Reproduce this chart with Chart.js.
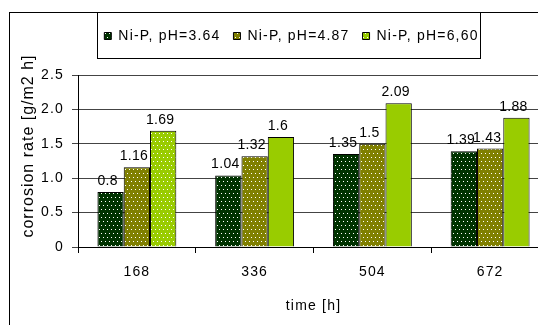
<!DOCTYPE html>
<html>
<head>
<meta charset="utf-8">
<script src="https://cdn.jsdelivr.net/npm/chart.js@4.4.0/dist/chart.umd.min.js"></script>
<style>
html, body { margin: 0; padding: 0; background: #fff; overflow: hidden; }
#wrap { width: 560px; height: 325px; }
</style>
</head>
<body>
<div id="wrap"><canvas id="corrosion" width="560" height="325"></canvas></div>
<script>
var times = ["168", "336", "504", "672"];
var seriesNames = ["Ni-P, pH=3.64", "Ni-P, pH=4.87", "Ni-P, pH=6,60"];
var ph364 = [0.8, 1.04, 1.35, 1.39];
var ph487 = [1.16, 1.32, 1.5, 1.43];
var ph660 = [1.69, 1.6, 2.09, 1.88];
var yTicks = [0, 0.5, 1, 1.5, 2, 2.5];
var yTitle = "corrosion rate [g/m2 h]";

var FONT = "'Liberation Sans', Arial, sans-serif";
Chart.defaults.font.family = FONT;
Chart.defaults.font.size = 14;
Chart.defaults.color = "#000";

// dotted fill like the excel pattern
function dots(base) {
    var c = document.createElement("canvas");
    c.width = 8; c.height = 8;
    var g = c.getContext("2d");
    g.fillStyle = base;
    g.fillRect(0, 0, 8, 8);
    g.fillStyle = "#ffffff";
    [[1, 1], [5, 1], [3, 5], [7, 5]].forEach(function (p) { g.fillRect(p[0], p[1], 1, 1); });
    return g.createPattern(c, "repeat");
}
var dark = dots("#003300");
var olive = dots("#808000");
var light = dots("#99cc00");

var spacing = {
    id: "spacing",
    beforeLayout: function (chart) { chart.ctx.letterSpacing = "1.2px"; },
    beforeDraw: function (chart) { chart.ctx.letterSpacing = "1.2px"; }
};

var frame = {
    id: "frame",
    afterDraw: function (chart) {
        var ctx = chart.ctx;
        var hb = chart.legend.legendHitBoxes;
        var last = hb[hb.length - 1];
        ctx.save();
        ctx.strokeStyle = "#000";
        ctx.lineWidth = 1;
        ctx.strokeRect(9.5, 12.5, chart.width, chart.height);
        var l = Math.round(hb[0].left - 7) + 0.5;
        var r = Math.round(last.left + last.width + 1) + 0.5;
        ctx.strokeRect(l, 12.5, r - l, 46);
        // y axis title, a bit above the plot centre as in the original
        ctx.translate(29, 146);
        ctx.rotate(-Math.PI / 2);
        ctx.font = "16px " + FONT;
        ctx.letterSpacing = "1px";
        ctx.fillStyle = "#000";
        ctx.textAlign = "center";
        ctx.textBaseline = "middle";
        ctx.fillText(yTitle, 0, 0);
        ctx.restore();
    }
};

var valueLabels = {
    id: "valueLabels",
    afterDatasetsDraw: function (chart) {
        var ctx = chart.ctx;
        ctx.save();
        ctx.font = "14px " + FONT;
        ctx.letterSpacing = "0.3px";
        ctx.fillStyle = "#000";
        ctx.textAlign = "center";
        ctx.textBaseline = "alphabetic";
        chart.data.datasets.forEach(function (ds, i) {
            chart.getDatasetMeta(i).data.forEach(function (bar, j) {
                ctx.fillText(String(ds.data[j]), bar.x - 3, bar.y - 7);
            });
        });
        ctx.restore();
    }
};

var data = {
    labels: times,
    datasets: [
        { label: seriesNames[0], data: ph364, backgroundColor: dark, borderColor: "#000", borderWidth: 1 },
        { label: seriesNames[1], data: ph487, backgroundColor: olive, borderColor: "#000", borderWidth: 1 },
        {
            label: seriesNames[2], data: ph660,
            backgroundColor: function (c) { return c.dataIndex === 0 ? light : "#99cc00"; },
            borderColor: "#000", borderWidth: 1
        }
    ]
};

var corrosionChart = new Chart(document.getElementById("corrosion"), {
    type: "bar",
    data: data,
    plugins: [spacing, frame, valueLabels],
    options: {
        responsive: false,
        animation: false,
        layout: { padding: { top: 16, left: 34, right: 11, bottom: 0 } },
        datasets: { bar: { categoryPercentage: 0.67, barPercentage: 1 } },
        plugins: {
            tooltip: { enabled: false },
            legend: {
                position: "top",
                labels: { boxWidth: 7, boxHeight: 7, padding: 13, font: { size: 14 } }
            },
            // empty subtitle used as a gap between legend and plot
            subtitle: {
                display: true, text: "", position: "top", weight: 500,
                font: { size: 10 }, padding: { top: 10, bottom: 0 }
            }
        },
        scales: {
            x: {
                grid: { display: true, drawOnChartArea: false, drawTicks: true, tickLength: 6, offset: true, color: "#000" },
                border: { color: "#000" },
                ticks: { padding: 11 },
                title: { display: true, text: "time [h]", padding: { top: 0, bottom: 10 } },
                afterFit: function (s) { s.height = 78; }
            },
            y: {
                min: 0, max: 2.5,
                afterBuildTicks: function (s) { s.ticks = yTicks.map(function (v) { return { value: v }; }); },
                grid: { color: "#444", tickLength: 6 },
                border: { color: "#000" },
                ticks: { padding: 8 },
                afterFit: function (s) { s.width = 44; }
            }
        }
    }
});
</script>
</body>
</html>
